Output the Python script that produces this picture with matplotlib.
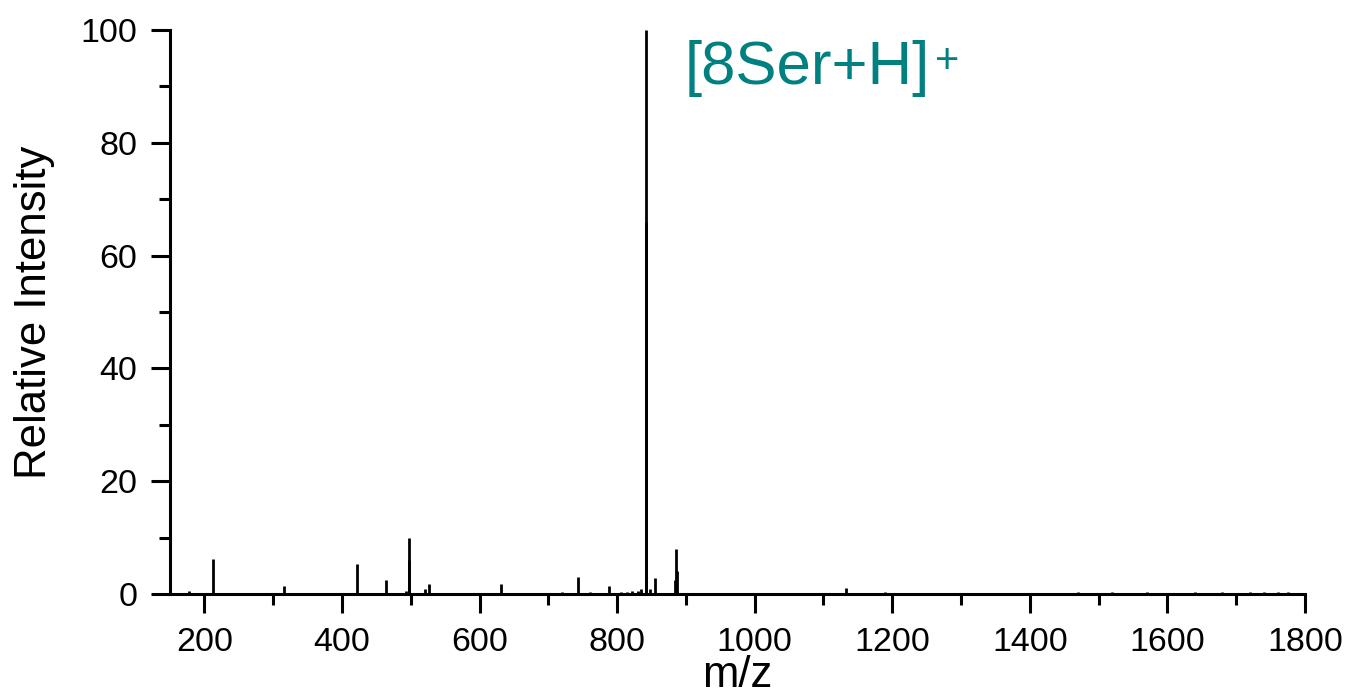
#!/usr/bin/env python3
import matplotlib
matplotlib.use('Agg')
import matplotlib.pyplot as plt
from matplotlib.ticker import MultipleLocator

# peak list (m/z, relative intensity)
mz = [178, 212, 316, 421.5, 464.6, 493, 497, 497.6, 521, 526, 631,
      705, 720, 743, 760, 787.6, 805, 815, 822, 830, 835, 841.3,
      842, 842.7, 847.5, 855.5, 884.6, 886, 887.2, 1110, 1133, 1150,
      1190, 1470, 1520, 1570, 1640, 1680, 1720, 1740, 1760, 1775]
intensity = [0.5, 6.2, 1.4, 5.3, 2.5, 0.6, 9.9, 6.0, 0.9, 1.7, 1.7,
             0.2, 0.3, 3.0, 0.3, 1.5, 0.3, 0.3, 0.6, 0.5, 0.9, 13.0,
             100, 66, 0.8, 2.8, 2.5, 8.0, 4.0, 0.2, 1.0, 0.2,
             0.3, 0.3, 0.3, 0.4, 0.3, 0.3, 0.3, 0.4, 0.4, 0.4]

label = '[8Ser+H]'
teal = '#008080'

plt.rcParams['font.family'] = ['Liberation Sans', 'DejaVu Sans']

fig = plt.figure(figsize=(13.5, 6.99), dpi=100)
ax = fig.add_axes([0.1259, 0.1502, 0.8408, 0.8069])

ax.vlines(mz, 0, intensity, color='black', lw=2.0)

ax.set_xlim(150, 1800)
ax.set_ylim(0, 100)
ax.xaxis.set_major_locator(MultipleLocator(200))
ax.xaxis.set_minor_locator(MultipleLocator(100))
ax.yaxis.set_major_locator(MultipleLocator(20))
ax.yaxis.set_minor_locator(MultipleLocator(10))

for s in ['top', 'right']:
    ax.spines[s].set_visible(False)
for s in ['left', 'bottom']:
    ax.spines[s].set_linewidth(2.2)
ax.tick_params(which='major', length=13.5, width=2.2, labelsize=24.5, pad=10)
ax.tick_params(which='minor', length=8, width=2.2)

ax.set_xlabel('m/z', fontsize=31.5, labelpad=-2)
ax.set_ylabel('Relative Intensity', fontsize=31.5, labelpad=18)

t = ax.text(0.453, 0.905, label, transform=ax.transAxes, fontsize=44.5,
            color=teal, va='baseline', ha='left')
ax.annotate('+', xy=(1.0, 0.6), xycoords=t, xytext=(4, 0),
            textcoords='offset points', fontsize=30, color=teal,
            ha='left', va='center')

plt.savefig('out.png')
